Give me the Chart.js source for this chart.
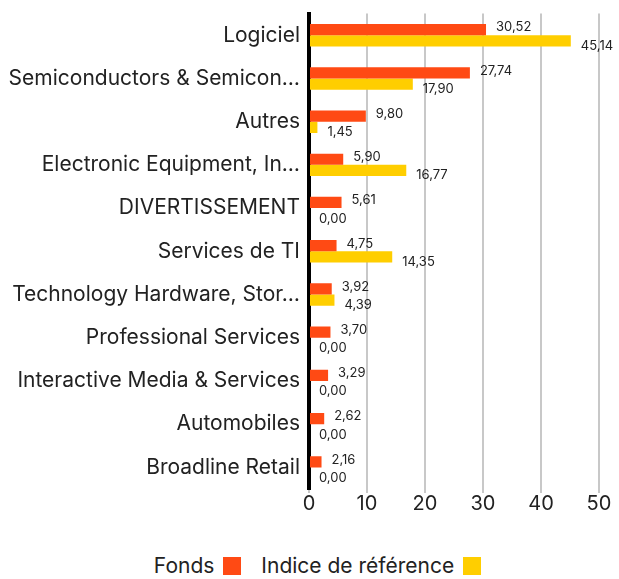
<!DOCTYPE html>
<html>
<head>
<meta charset="utf-8">
<script src="https://cdn.jsdelivr.net/npm/chart.js@4"></script>
<style>
  body { margin: 0; background: #fff; font-family: Inter, sans-serif; }
  #wrap { position: relative; width: 619px; height: 515px; }
  #legend { position: absolute; top: 553px; left: 8px; width: 619px; text-align: center; font-size: 21px; color: #222; }
  #legend span.item { display: inline-flex; align-items: center; margin: 0 10px; }
  #legend span.box { display: inline-block; width: 18px; height: 18px; margin-left: 9px; }
</style>
</head>
<body>
<div id="wrap"><canvas id="chart"></canvas></div>
<div id="legend"></div>
<script>
const categories = ['Logiciel', 'Semiconductors & Semicon…', 'Autres', 'Electronic Equipment, In…', 'DIVERTISSEMENT', 'Services de TI', 'Technology Hardware, Stor…', 'Professional Services', 'Interactive Media & Services', 'Automobiles', 'Broadline Retail'];
const fonds = [30.52, 27.74, 9.80, 5.90, 5.61, 4.75, 3.92, 3.70, 3.29, 2.62, 2.16];
const indice = [45.14, 17.90, 1.45, 16.77, 0.00, 14.35, 4.39, 0.00, 0.00, 0.00, 0.00];
const xTicks = [0, 10, 20, 30, 40, 50];

const colors = ['#ff4a14', '#ffce00'];

const valueLabels = {
    id: 'valueLabels',
    afterDatasetsDraw(chart) {
        const c = chart.ctx;
        c.save();
        c.font = '13px Inter, sans-serif';
        c.fillStyle = '#222';
        c.textBaseline = 'middle';
        c.textAlign = 'left';
        chart.data.datasets.forEach(function(ds, i) {
            const meta = chart.getDatasetMeta(i);
            meta.data.forEach(function(bar, j) {
                const txt = ds.data[j].toFixed(2).replace('.', ',');
                const dy = i === 0 ? -2 : 5;
                c.fillText(txt, bar.x + 10, bar.y + dy);
            });
        });
        c.restore();
    }
};

const chart = new Chart(document.querySelector('#chart'), {
    type: 'bar',
    data: {
        labels: categories,
        datasets: [
            { label: 'Fonds', data: fonds, backgroundColor: colors[0] },
            { label: 'Indice de référence', data: indice, backgroundColor: colors[1] }
        ]
    },
    options: {
        indexAxis: 'y',
        responsive: true,
        maintainAspectRatio: false,
        animation: false,
        categoryPercentage: 0.52,
        barPercentage: 1,
        layout: { padding: { top: 13, right: 20, left: 0, bottom: 0 } },
        scales: {
            x: {
                min: 0,
                max: 50,
                afterBuildTicks: function(axis) {
                    axis.ticks = xTicks.map(function(v) { return { value: v }; });
                },
                grid: { color: '#c8c8c8', lineWidth: 2, tickLength: 4 },
                border: { display: false },
                ticks: { color: '#222', font: { family: 'Inter', size: 20 }, padding: -1 }
            },
            y: {
                afterFit: function(axis) { axis.width = 309; },
                grid: { display: false },
                border: { color: '#000', width: 4 },
                ticks: { color: '#222', font: { family: 'Inter', size: 21 }, padding: 1 }
            }
        },
        plugins: {
            legend: { display: false },
            tooltip: { enabled: false }
        }
    },
    plugins: [valueLabels]
});

// legend: text first, then the colour box
const legend = document.querySelector('#legend');
chart.data.datasets.forEach(function(ds) {
    const item = document.createElement('span');
    item.className = 'item';
    item.appendChild(document.createTextNode(ds.label));
    const box = document.createElement('span');
    box.className = 'box';
    box.style.background = ds.backgroundColor;
    item.appendChild(box);
    legend.appendChild(item);
});
</script>
</body>
</html>
